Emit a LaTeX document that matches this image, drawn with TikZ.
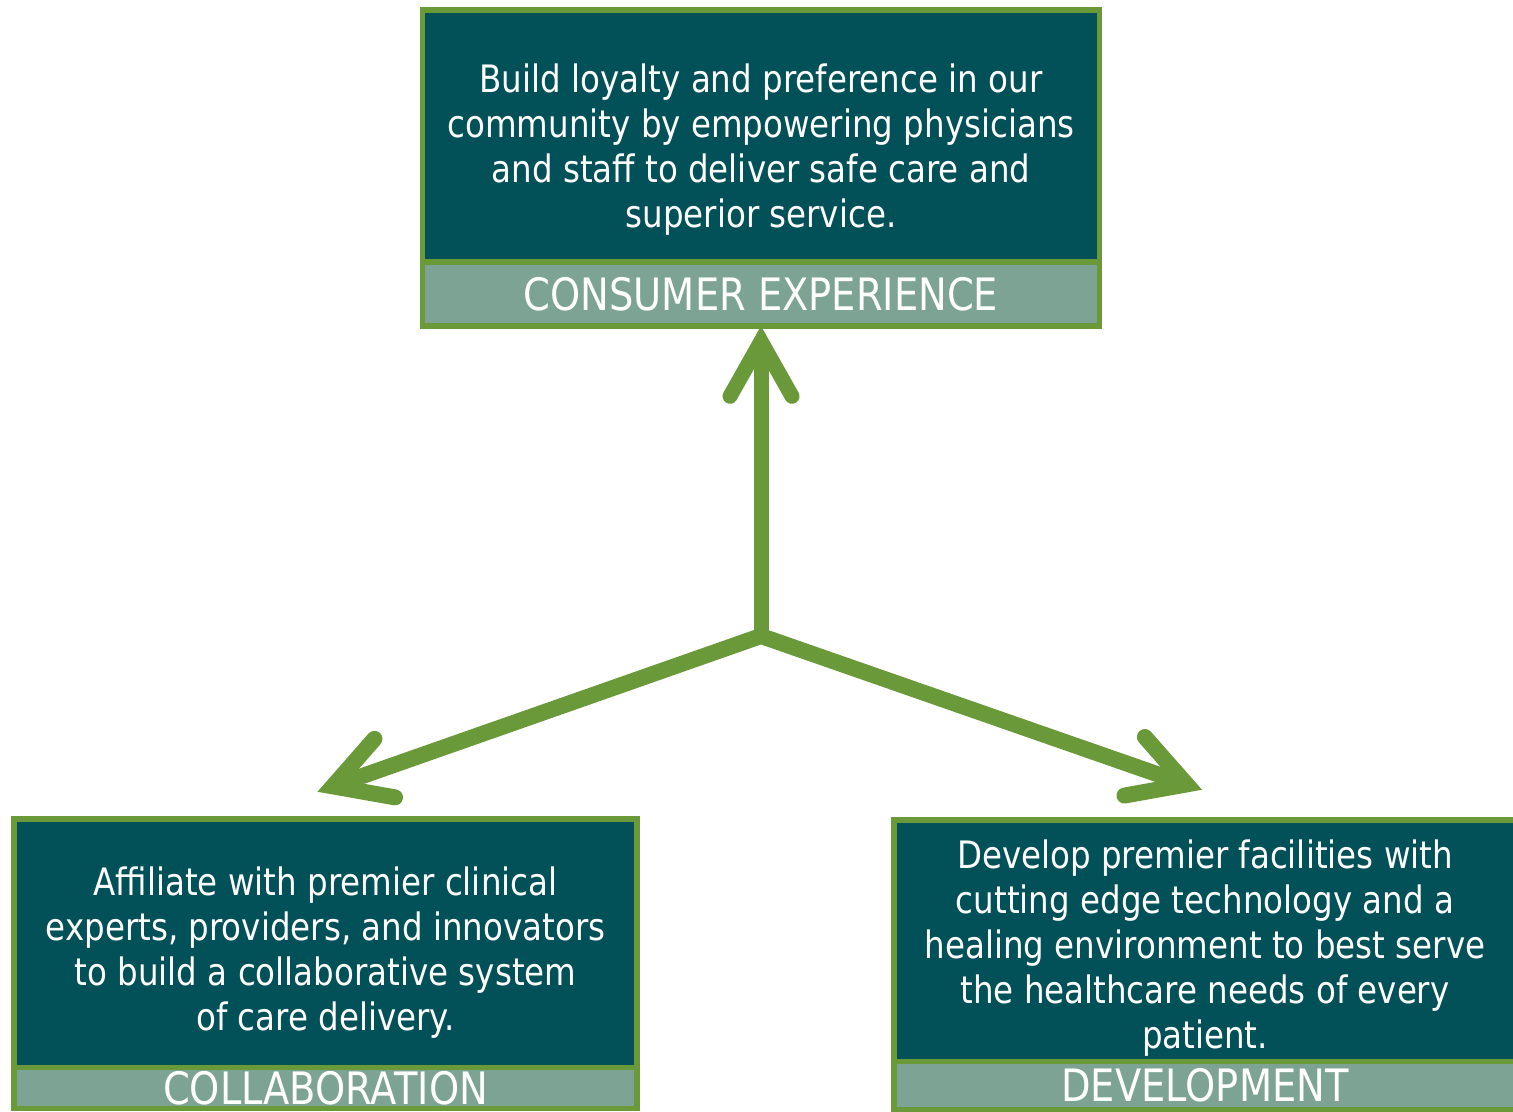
\documentclass[tikz,border=0pt]{standalone}
\usepackage{fontspec}
\setmainfont{DejaVu Sans}[FakeStretch=0.86]
\usetikzlibrary{arrows.meta, positioning}

\definecolor{darkteal}{RGB}{2,80,88}
\definecolor{sagegreen}{RGB}{124,163,148}
\definecolor{leafgreen}{RGB}{106,153,58}

\tikzset{
    bodybox/.style={draw=leafgreen, line width=0.055cm, fill=darkteal, outer sep=0pt, inner sep=0pt},
    bodytext/.style={text=white, align=center, inner sep=0pt, font=\fontsize{10.75}{12.8}\selectfont},
    bandbox/.style={draw=leafgreen, line width=0.055cm, fill=sagegreen, outer sep=0pt, inner sep=0pt,
        text=white, font=\fontsize{12.7}{14}\selectfont},
    spoke/.style={leafgreen, line width=0.16cm, line join=miter},
    leafbarb/.tip={Straight Barb[length=0.55cm, width=0.62cm, line cap=round, line join=miter]}
}

\begin{document}
\begin{tikzpicture}
    \useasboundingbox (0,0) rectangle (15.13,-11.12);
    \clip (0,0) rectangle (15.13,-11.12);

  % Consumer experience
    \node[bodybox, minimum width=6.77cm, minimum height=2.52cm] (cxbox) at (7.61,-1.36) {};
    \node[bodytext, yshift=-0.14cm] (cxtext) at (cxbox.center) {Build loyalty and preference in our\\community by empowering physicians\\and staff to deliver safe care and\\superior service.};
    \node[bandbox, minimum width=6.77cm, minimum height=0.64cm, below=0pt of cxbox] (cx) {CONSUMER EXPERIENCE};

  % Collaboration
    \node[bodybox, minimum width=6.23cm, minimum height=2.485cm] (collabbox) at (3.255,-9.43) {};
    \node[bodytext, yshift=-0.10cm] (collabtext) at (collabbox.center) {Affiliate with premier clinical\\experts, providers, and innovators\\to build a collaborative system\\of care delivery.};
    \node[bandbox, minimum width=6.23cm, minimum height=0.41cm, below=0pt of collabbox] (collab) {COLLABORATION};

  % Development
    \node[bodybox, minimum width=6.22cm, minimum height=2.415cm] (devbox) at (12.05,-9.405) {};
    \node[bodytext, yshift=-0.08cm] (devtext) at (devbox.center) {Develop premier facilities with\\cutting edge technology and a\\healing environment to best serve\\the healthcare needs of every\\patient.};
    \node[bandbox, minimum width=6.22cm, minimum height=0.485cm, below=0pt of devbox] (dev) {DEVELOPMENT};

  % Arrows
    \coordinate[below=3.10cm of cx.south] (hub);
    \coordinate[above=0.27cm of collabbox.north, xshift=-0.08cm] (collabtip);
    \coordinate[above=0.30cm of devbox.north, xshift=-0.03cm] (devtip);

    \draw[spoke, line width=0.15cm, -{leafbarb}] (hub) -- (cx);
    \draw[spoke, {leafbarb}-{leafbarb}] (collabtip) -- (hub) -- (devtip);

\end{tikzpicture}
\end{document}
